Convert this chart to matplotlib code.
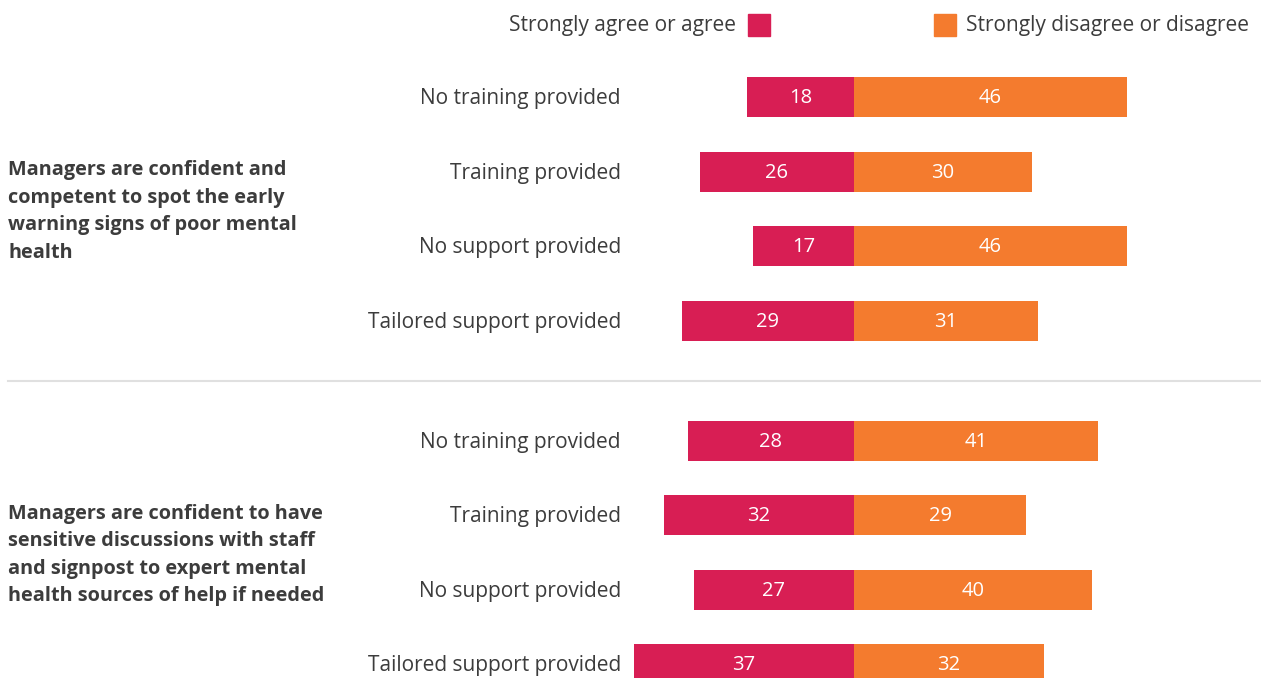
import numpy as np
import matplotlib.pyplot as plt
from matplotlib.patches import Rectangle

plt.rcParams['font.family'] = ['Open Sans', 'DejaVu Sans']

# data
sub_labels = ['No training provided', 'Training provided',
              'No support provided', 'Tailored support provided']
questions = ['Managers are confident and\ncompetent to spot the early\nwarning signs of poor mental\nhealth',
             'Managers are confident to have\nsensitive discussions with staff\nand signpost to expert mental\nhealth sources of help if needed']
agree = [18, 26, 17, 29, 28, 32, 27, 37]
disagree = [46, 30, 46, 31, 41, 29, 40, 32]
legend_labels = ['Strongly agree or agree', 'Strongly disagree or disagree']

PINK = '#d81e54'
ORANGE = '#f47b2e'
TEXT = '#3c3c3c'

W, H = 1261, 678
fig = plt.figure(figsize=(W / 100, H / 100), dpi=100)
ax = fig.add_axes([0, 0, 1, 1])

# scale: 5.94 px per unit, zero at x=854 px ; rows 74.5 px apart
ppu = 5.94
x0 = 854
row_px = 74.5
ax.set_xlim(-x0 / ppu, (W - x0) / ppu)
ax.set_ylim((H - 97) / row_px, -97 / row_px)
ax.axis('off')

gap = 120 / row_px - 1
ypos = np.array([0, 1, 2, 3, 4 + gap, 5 + gap, 6 + gap, 7 + gap])
bh = 40 / row_px

ax.barh(ypos, [-a for a in agree], height=bh, color=PINK)
ax.barh(ypos, disagree, height=bh, color=ORANGE)

for y, a, d in zip(ypos, agree, disagree):
    ax.text(-a / 2, y + 0.02, str(a), color='white', ha='center', va='center', fontsize=14.5)
    ax.text(d / 2, y + 0.02, str(d), color='white', ha='center', va='center', fontsize=14.5)

label_x = (621 - x0) / ppu
for i, y in enumerate(ypos):
    ax.text(label_x, y + 0.025, sub_labels[i % 4], color=TEXT, ha='right', va='center', fontsize=15)

# question texts
q_x = (8 - x0) / ppu
for q, ys in zip(questions, [ypos[:4], ypos[4:]]):
    ax.text(q_x, ys.mean() + 0.04, q, color=TEXT, ha='left', va='center',
            fontsize=14.3, fontweight='bold', linespacing=1.5)

# separator
sep_y = (ypos[3] + ypos[4]) / 2
ax.plot([(8 - x0) / ppu, (W - x0) / ppu], [sep_y, sep_y], color='#e0e0e0', lw=1.5)

# legend
ly = (25 - 97) / row_px
sq = 22 / ppu
sqh = 22 / row_px
ax.add_patch(Rectangle(((748 - x0) / ppu, ly - sqh / 2), sq, sqh, color=PINK, clip_on=False))
ax.add_patch(Rectangle(((934 - x0) / ppu, ly - sqh / 2), sq, sqh, color=ORANGE, clip_on=False))
ax.text((736 - x0) / ppu, ly + 0.01, legend_labels[0], color=TEXT, ha='right', va='center', fontsize=15)
ax.text((966 - x0) / ppu, ly + 0.01, legend_labels[1], color=TEXT, ha='left', va='center', fontsize=15)

fig.savefig('out.png', dpi=100)
